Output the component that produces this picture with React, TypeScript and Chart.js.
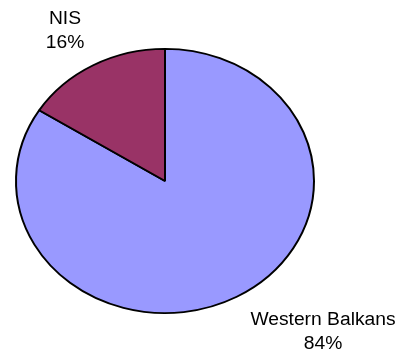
import React, { useEffect, useRef } from "react";
import { Chart, registerables } from "chart.js";

Chart.register(...registerables);

const categories = ["Western Balkans", "NIS"];
const values = [84, 16];
const colors = ["#9999FF", "#993366"];

// label anchor (center x, first-line baseline y) in canvas pixels
const labelAnchors: [number, number][] = [
  [323, 325],
  [65, 24],
];

const VERTICAL_SQUASH = 133 / 150;

const squashPlugin = {
  id: "squash",
  beforeDatasetsDraw(chart: any) {
    const arc = chart.getDatasetMeta(0).data[0];
    if (!arc) return;
    const { x, y } = arc;
    const ctx = chart.ctx;
    ctx.save();
    ctx.translate(x, y);
    ctx.scale(1, VERTICAL_SQUASH);
    ctx.translate(-x, -y);
  },
  afterDatasetsDraw(chart: any) {
    chart.ctx.restore();
  },
};

const labelPlugin = {
  id: "pieLabels",
  afterDraw(chart: any) {
    const ctx = chart.ctx;
    const total = values.reduce((a, b) => a + b, 0);
    ctx.save();
    ctx.fillStyle = "#000000";
    ctx.font = "18px 'Liberation Sans', Arial, sans-serif";
    ctx.textAlign = "center";
    ctx.textBaseline = "alphabetic";
    categories.forEach((cat, i) => {
      const [ax, ay] = labelAnchors[i];
      const lines = [cat, Math.round((values[i] / total) * 100) + "%"];
      lines.forEach((line, j) => {
        ctx.save();
        ctx.translate(ax, ay + j * 24);
        ctx.scale(1.07, 1);
        ctx.fillText(line, 0, 0);
        ctx.restore();
      });
    });
    ctx.restore();
  },
};

export default function App() {
  const ref = useRef<HTMLCanvasElement | null>(null);

  useEffect(() => {
    if (!ref.current) return;
    const chart = new Chart(ref.current, {
      type: "pie",
      data: {
        labels: categories,
        datasets: [
          {
            data: values,
            backgroundColor: colors,
            borderColor: "#000000",
            borderWidth: 2,
          },
        ],
      },
      options: {
        animation: false,
        responsive: true,
        maintainAspectRatio: false,
        layout: { padding: { left: 15, right: 90, top: 31, bottom: 27 } },
        plugins: {
          legend: { display: false },
          tooltip: { enabled: false },
        },
      },
      plugins: [squashPlugin, labelPlugin],
    });
    return () => chart.destroy();
  }, []);

  return (
    <div style={{ position: "fixed", left: 0, top: 0, width: 405, height: 358, background: "#ffffff" }}>
      <canvas ref={ref} />
    </div>
  );
}
